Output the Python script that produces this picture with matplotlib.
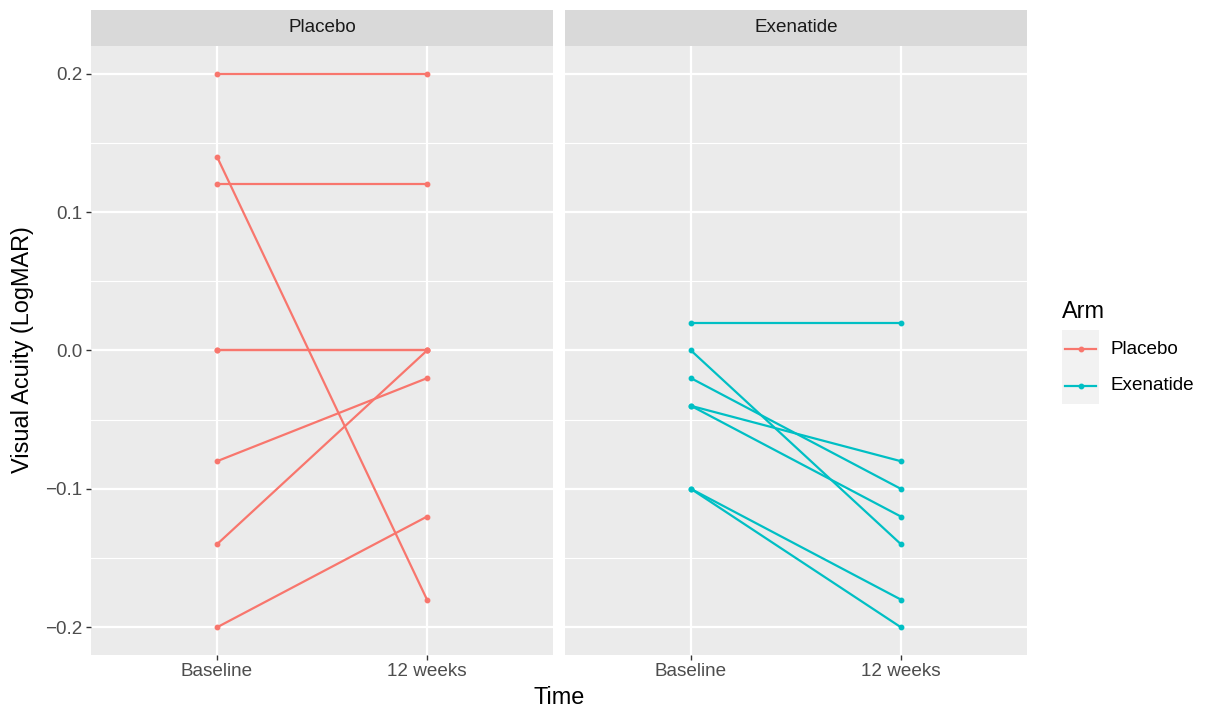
import matplotlib
matplotlib.use("Agg")
import matplotlib.pyplot as plt
import matplotlib.ticker as mticker
from matplotlib.lines import Line2D
from matplotlib.patches import Rectangle

plt.rcParams['font.family'] = ['Liberation Sans', 'DejaVu Sans']

times = ["Baseline", "12 weeks"]
arms = ["Placebo", "Exenatide"]
colors = {"Placebo": "#F8766D", "Exenatide": "#00BFC4"}

# one pair (baseline, 12 weeks) per patient
placebo_base = [0.20, 0.14, 0.12, 0.00, 0.00, -0.08, -0.14, -0.20]
placebo_12w = [0.20, -0.18, 0.12, 0.00, 0.00, -0.02, 0.00, -0.12]
exenatide_base = [0.02, 0.00, -0.02, -0.04, -0.04, -0.10, -0.10]
exenatide_12w = [0.02, -0.14, -0.10, -0.08, -0.12, -0.18, -0.20]

data = {
    "Placebo": (placebo_base, placebo_12w),
    "Exenatide": (exenatide_base, exenatide_12w),
}

W, H = 1205, 708
fig = plt.figure(figsize=(W / 100, H / 100), dpi=100)

panel_left = [91, 565]
panel_w = 462
panel_top, panel_bot = 46, 655
strip_top = 10
tick_fs = 13.6
title_fs = 16.9


def fmt(v, pos):
    return ("%.1f" % v).replace("-", "\u2212")


for i, arm in enumerate(arms):
    x0 = panel_left[i] / W
    ax = fig.add_axes([x0, (H - panel_bot) / H, panel_w / W, (panel_bot - panel_top) / H])
    ax.set_facecolor("#EBEBEB")
    for s in ax.spines.values():
        s.set_visible(False)
    base, wk = data[arm]
    for b, w in zip(base, wk):
        ax.plot([0, 1], [b, w], color=colors[arm], lw=1.6, marker="o", ms=3.2,
                solid_capstyle="butt", zorder=3)
    ax.set_xlim(-0.6, 1.6)
    ax.set_ylim(-0.22, 0.22)
    ax.set_xticks([0, 1])
    ax.set_xticklabels(times)
    ax.yaxis.set_major_locator(mticker.MultipleLocator(0.1))
    ax.yaxis.set_minor_locator(mticker.MultipleLocator(0.05))
    ax.yaxis.set_major_formatter(mticker.FuncFormatter(fmt))
    ax.grid(which="major", color="white", lw=1.6)
    ax.grid(which="minor", axis="y", color="white", lw=0.8)
    ax.set_axisbelow(True)
    ax.tick_params(axis="both", which="major", length=3.5, width=1.0, color="#333333",
                   labelsize=tick_fs, labelcolor="#4D4D4D", pad=2.5)
    ax.tick_params(axis="both", which="minor", length=0)
    if i == 1:
        ax.tick_params(axis="y", which="major", length=0, labelleft=False)

    # facet strip
    sax = fig.add_axes([x0, (H - panel_top) / H, panel_w / W, (panel_top - strip_top) / H])
    sax.set_facecolor("#D9D9D9")
    sax.set_xticks([])
    sax.set_yticks([])
    for s in sax.spines.values():
        s.set_visible(False)
    sax.text(0.5, 0.5, arm, ha="center", va="center", fontsize=tick_fs, color="#1A1A1A",
             transform=sax.transAxes)

fig.text(23 / W, 1 - 350 / H, "Visual Acuity (LogMAR)", rotation=90, ha="center",
         va="center", fontsize=title_fs)
fig.text((91 + 1027) / 2 / W, 1 - 697 / H, "Time", ha="center", va="center", fontsize=title_fs)

# legend, drawn by hand in figure pixels (ggplot style key boxes)
fig.text(1062 / W, 1 - 311 / H, "Arm", ha="left", va="center", fontsize=title_fs)
fig.patches.append(Rectangle((1062 / W, 1 - 404 / H), 37 / W, 74 / H,
                             transform=fig.transFigure, facecolor="#F2F2F2",
                             edgecolor="none", zorder=0))
for k, arm in enumerate(arms):
    yk = 1 - (349 + 37 * k) / H
    fig.add_artist(Line2D([1065 / W, 1096 / W], [yk, yk], transform=fig.transFigure,
                          color=colors[arm], lw=1.6))
    fig.add_artist(Line2D([1080.5 / W], [yk], transform=fig.transFigure,
                          color=colors[arm], marker="o", ms=3.2, lw=0))
    fig.text(1110 / W, yk, arm, ha="left", va="center", fontsize=tick_fs)

fig.savefig("out.png", dpi=100)
